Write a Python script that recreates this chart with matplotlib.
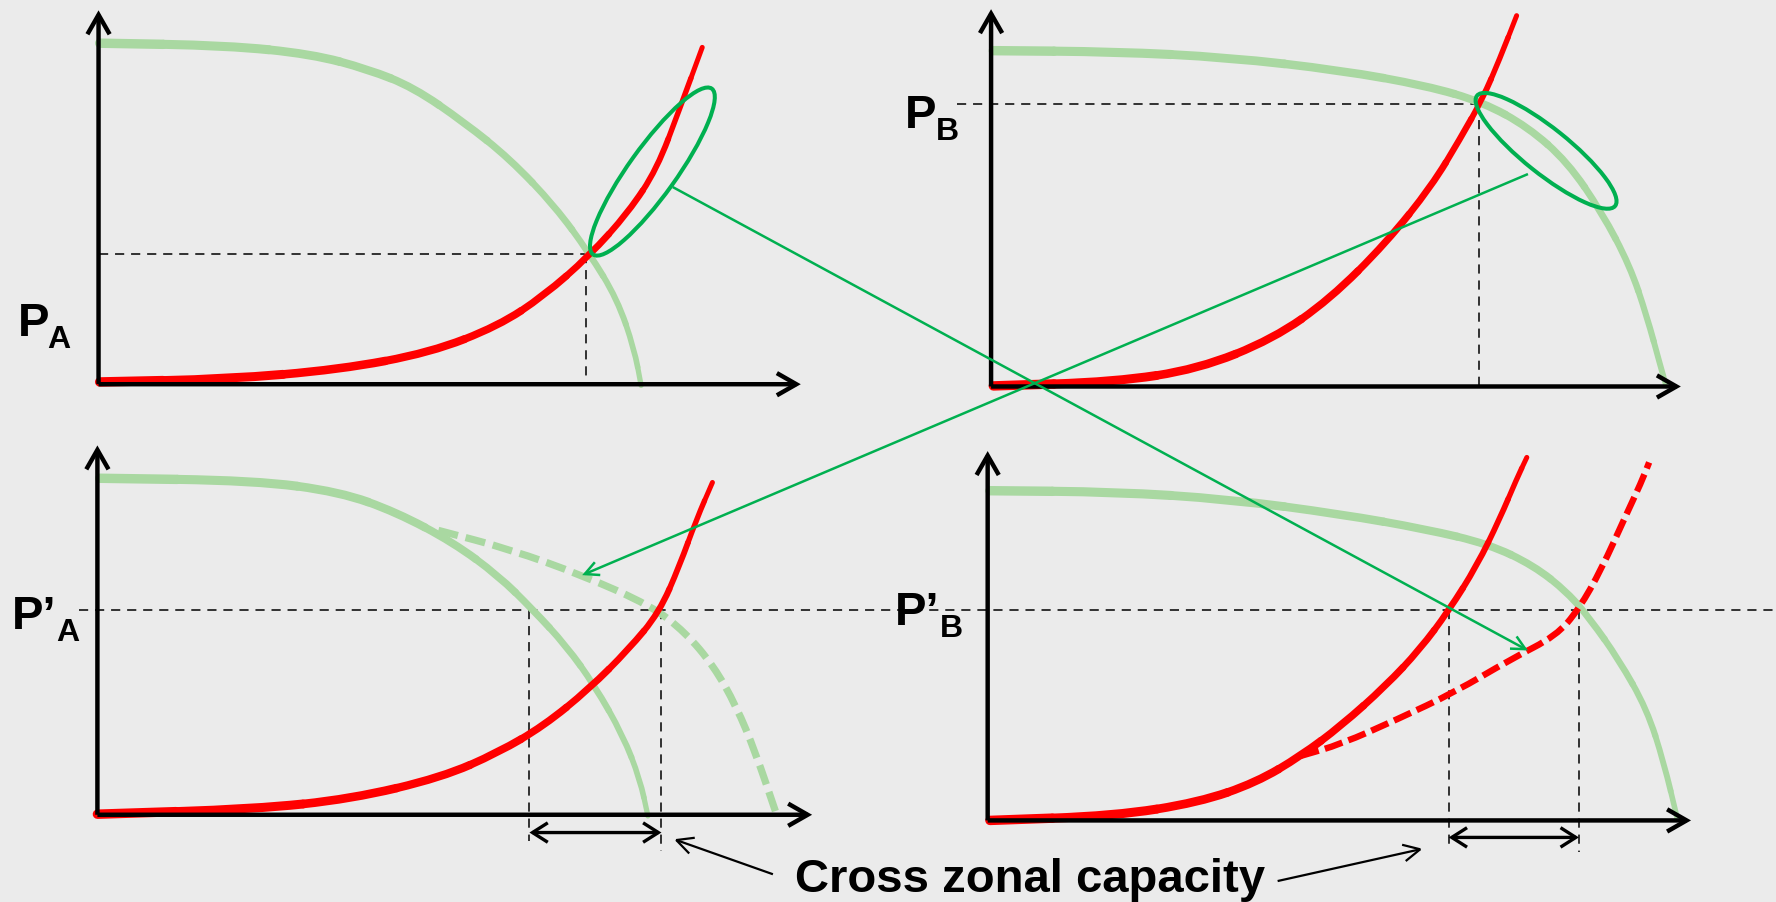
import numpy as np
import matplotlib.pyplot as plt
from matplotlib.collections import PatchCollection
from matplotlib.patches import FancyArrowPatch, Ellipse, PathPatch
from matplotlib.path import Path

# canvas units follow the reference view (1568 x 797), y grows downwards
W, H = 1568, 797

BG = '#EBEBEB'
LIGHT = '#A9D8A1'
RED = '#FF0000'
DARK = '#00B050'
FONT = ['Liberation Sans', 'DejaVu Sans']

# axes of the four panels: origin, tip of x arrow, tip of y arrow
origin_x = [87, 875, 86, 872]
origin_y = [340, 342, 720, 725]
xtip = [707, 1484, 717, 1493]
ytip = [10, 9, 394, 399]

# top left, zone A
tl_demand_x = [88, 200, 275, 325, 365, 410, 450, 490, 520, 545, 560, 566]
tl_demand_y = [39, 41, 48.6, 62, 78, 109, 141, 183, 224, 265, 309, 341]
tl_supply_x = [88, 200, 300, 380, 440, 480, 520, 555, 580, 600, 620]
tl_supply_y = [338, 335.6, 327, 312, 288.5, 262, 227, 188, 150, 97, 42.7]

# top right, zone B
tr_demand_x = [877, 984, 1084, 1184, 1259, 1309, 1349, 1384, 1414, 1439, 1454, 1466, 1471]
tr_demand_y = [45.6, 46.5, 51.5, 63, 76.5, 91, 113, 144, 188, 235.5, 280, 324, 341.5]
tr_supply_x = [877, 984, 1058, 1124, 1174, 1224, 1264, 1289, 1309, 1324, 1339]
tr_supply_y = [341.5, 338, 326.6, 300, 265, 215, 165, 123.6, 88, 53, 14.7]

# bottom left, zone A after coupling
bl_demand_x = [88, 225, 300, 350, 400, 440, 470, 500, 525, 550, 565, 572]
bl_demand_y = [423, 425, 435, 453, 479.6, 509, 538.5, 571, 606, 650, 688.6, 721]
bl_demand2_x = [387, 450, 515, 575, 605, 630, 650, 667, 685]
bl_demand2_y = [469, 485.6, 509, 535.6, 559, 588.6, 624, 665, 718]
bl_supply_x = [86, 225, 310, 390, 440, 480, 520, 555, 582, 600, 615, 629]
bl_supply_y = [719.5, 715, 706, 687, 665, 641.5, 609, 574, 541.5, 500, 459, 426.7]

# bottom right, zone B after coupling
br_demand_x = [874, 984, 1084, 1184, 1259, 1314, 1354, 1384, 1404, 1429, 1454, 1469, 1481]
br_demand_y = [434, 435, 441.4, 454.7, 468, 481, 500, 523.8, 547.4, 582.7, 626.8, 674, 724]
br_supply_x = [874, 984, 1058.6, 1109, 1148.6, 1184, 1223.6, 1253.6, 1279, 1304, 1324, 1339, 1348]
br_supply_y = [725, 721, 709, 691.5, 668, 641.5, 606, 574, 540, 500, 459, 423.7, 404.6]
br_supply2_x = [1148.6, 1184, 1234, 1284, 1334, 1374, 1394, 1414, 1434, 1449, 1456]
br_supply2_y = [668, 657.7, 635.6, 612, 582.7, 562, 538.5, 503, 459, 426.7, 409]

# prices and quantities marked with dashed guides
tl_price, tl_qty = 225, 517.5
tr_price, tr_qty = 92.7, 1306
coupled_price = 539
bl_qty = [467.4, 584]
br_qty = [1279, 1394]

# ellipses around the marginal offers: centre, half axes, angle
ell_center = [(576, 152.3), (1365, 134)]
ell_half = [(90, 21), (78, 20)]
ell_angle = [-54.4, 38.6]

# green links between the panels
link_from = [(594, 166), (1349, 154.5)]
link_to = [(1349, 575), (514, 508.5)]

fig = plt.figure(figsize=(17.76, 9.03), dpi=100)
fig.patch.set_facecolor(BG)
ax = fig.add_axes([0, 0, 1, 1])
ax.set_facecolor(BG)
ax.set_xlim(0, W)
ax.set_ylim(H, 0)
ax.axis('off')


def pieces(x, y):
    # smooth freeform: quadratic bezier pieces between midpoints
    p = np.column_stack([x, y]).astype(float)
    m = (p[:-1] + p[1:]) / 2
    out = [Path([p[0], m[0]], [Path.MOVETO, Path.LINETO])]
    for i in range(1, len(p) - 1):
        out.append(Path([m[i - 1], p[i], m[i]],
                        [Path.MOVETO, Path.CURVE3, Path.CURVE3]))
    out.append(Path([m[-1], p[-1]], [Path.MOVETO, Path.LINETO]))
    return out


def tapered(x, y, w0, w1, color, z):
    parts = pieces(x, y)
    pc = PatchCollection([PathPatch(q) for q in parts],
                         linewidths=np.linspace(w0, w1, len(parts)),
                         edgecolors=color, facecolors='none',
                         capstyle='round', joinstyle='round', zorder=z)
    ax.add_collection(pc)


def dashed(x, y, lw, dashes, color, z):
    # one continuous path so the dash pattern runs on
    verts, codes = [], []
    for q in pieces(x, y):
        v, c = list(q.vertices), list(q.codes)
        if verts:
            v, c = v[1:], c[1:]
        verts += v
        codes += c
    ax.add_patch(PathPatch(Path(verts, codes), fill=False, ec=color, lw=lw,
                           linestyle=(0, dashes), capstyle='butt', zorder=z))


def arrow(p0, p1, style, lw, hl, hw, color='black', z=6):
    ax.add_patch(FancyArrowPatch(
        p0, p1, arrowstyle=f'{style},head_length={hl},head_width={hw}',
        mutation_scale=1, lw=lw, color=color, shrinkA=0, shrinkB=0,
        zorder=z, joinstyle='miter', capstyle='butt'))


def guide(x, y):
    ax.plot(x, y, color='black', lw=1.1, dashes=(6, 4.5), zorder=3)


# axes with open arrow heads
for ox, oy, xt, yt in zip(origin_x, origin_y, xtip, ytip):
    arrow((ox, oy), (xt, oy), '->', 3.2, 14, 8)
    arrow((ox, oy), (ox, yt), '->', 3.2, 14, 8)

# dashed guides
guide([origin_x[0], tl_qty], [tl_price, tl_price])
guide([tl_qty, tl_qty], [tl_price, origin_y[0]])
guide([845, tr_qty], [tr_price, tr_price])
guide([tr_qty, tr_qty], [tr_price, origin_y[1]])
guide([70, W], [coupled_price, coupled_price])
guide([bl_qty[0]] * 2, [coupled_price, 743])
guide([bl_qty[1]] * 2, [coupled_price, 752])
guide([br_qty[0]] * 2, [coupled_price, 747.5])
guide([br_qty[1]] * 2, [coupled_price, 753])

# demand (light green) and supply (red) curves
tapered(tl_demand_x, tl_demand_y, 6.8, 3.8, LIGHT, 4)
tapered(tr_demand_x, tr_demand_y, 6.8, 4.0, LIGHT, 4)
tapered(bl_demand_x, bl_demand_y, 6.8, 3.8, LIGHT, 4)
tapered(br_demand_x, br_demand_y, 6.8, 4.0, LIGHT, 4)
tapered(tl_supply_x, tl_supply_y, 6.8, 3.6, RED, 5)
tapered(tr_supply_x, tr_supply_y, 6.8, 3.6, RED, 5)
tapered(bl_supply_x, bl_supply_y, 6.8, 3.6, RED, 5)
tapered(br_supply_x, br_supply_y, 6.8, 3.6, RED, 5)
dashed(bl_demand2_x, bl_demand2_y, 5.2, (2.8, 1.1), LIGHT, 4)
dashed(br_supply2_x, br_supply2_y, 4.6, (2.9, 1.0), RED, 5)

# ellipses and the links between zones
for c, (a, b), ang in zip(ell_center, ell_half, ell_angle):
    ax.add_patch(Ellipse(c, 2 * a, 2 * b, angle=ang, fill=False,
                         ec=DARK, lw=2.9, zorder=7))
for p0, p1 in zip(link_from, link_to):
    arrow(p0, p1, '->', 1.8, 10, 5, color=DARK, z=7)

# cross zonal capacity
arrow((bl_qty[0], 735.7), (bl_qty[1], 735.7), '<->', 2.4, 11, 7)
arrow((br_qty[0], 740), (br_qty[1], 740), '<->', 2.4, 11, 7)
arrow((682.4, 772.5), (595, 741.6), '->', 1.6, 12, 6)
arrow((1128, 778.5), (1256, 750), '->', 1.6, 12, 6)
ax.text(702, 787.5, 'Cross zonal capacity', fontsize=34, fontweight='bold',
        family=FONT, ha='left', va='baseline')

# price labels
labels = [('P', 'A', 16, 296.6, 41.5, 307),
          ('P', 'B', 799, 113, 826.5, 123.6),
          ('P\u2019', 'A', 10.6, 555, 49.5, 566),
          ('P\u2019', 'B', 790, 552, 830, 562)]
for main, sub, x, y, sx, sy in labels:
    ax.text(x, y, main, fontsize=34, fontweight='bold', family=FONT,
            ha='left', va='baseline')
    ax.text(sx, sy, sub, fontsize=23, fontweight='bold', family=FONT,
            ha='left', va='baseline')

fig.savefig('out.png', dpi=100, facecolor=BG)
